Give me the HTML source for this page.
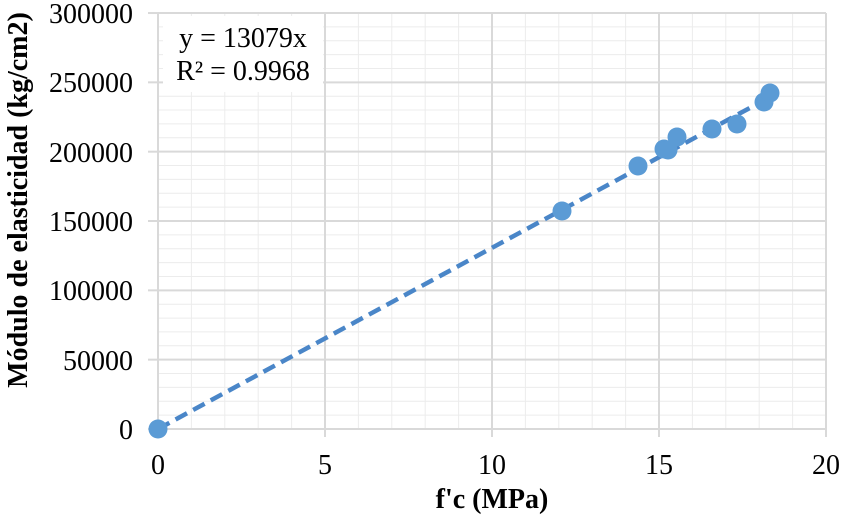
<!DOCTYPE html>
<html><head><meta charset="utf-8"><style>
html,body{margin:0;padding:0;background:#fff;}
svg{display:block;font-family:"Liberation Serif",serif;}
</style></head><body>
<svg width="843" height="517" xmlns="http://www.w3.org/2000/svg">
<g id="minor" stroke="#ececec" stroke-width="1"></g>
<g id="major" stroke="#d9d9d9" stroke-width="2"></g>
<script>
var mi=document.getElementById('minor'),ma=document.getElementById('major'),ns='http://www.w3.org/2000/svg';
function L(g,x1,y1,x2,y2){var l=document.createElementNS(ns,'line');l.setAttribute('x1',x1);l.setAttribute('y1',y1);l.setAttribute('x2',x2);l.setAttribute('y2',y2);g.appendChild(l);}
for(var i=1;i<=20;i++){var x=158+i*33.4;L(i%5?mi:ma,x,13,x,429);}
for(var j=1;j<=30;j++){var y=429-j*13.867;L(j%5?mi:ma,158,y,826,y);}
for(var i=0;i<=4;i++){L(ma,158+i*167,429,158+i*167,437);}
for(var j=0;j<=6;j++){L(ma,148,429-j*69.33,158,429-j*69.33);}
L(ma,158,13,158,429);L(ma,158,429,826,429);
</script>
<rect x="163" y="16" width="160" height="76" fill="#fff"/>
<text x="243" y="47" font-size="28" text-anchor="middle">y = 13079x</text>
<text x="243" y="80" font-size="28" text-anchor="middle">R² = 0.9968</text>
<line x1="158" y1="429" x2="770" y2="97" stroke="#4a86c8" stroke-width="4.5" stroke-dasharray="13 7"/>
<g fill="#5b9bd5">
<circle cx="158" cy="429" r="9.5"/><circle cx="562" cy="211" r="9.5"/><circle cx="638" cy="166" r="9.5"/>
<circle cx="664" cy="149" r="9.5"/><circle cx="668" cy="150" r="9.5"/><circle cx="677" cy="137" r="9.5"/>
<circle cx="712" cy="129" r="9.5"/><circle cx="737" cy="124" r="9.5"/><circle cx="764" cy="102" r="9.5"/>
<circle cx="770" cy="93" r="9.5"/>
</g>
<g font-size="28" text-anchor="end">
<text x="133" y="439">0</text><text x="133" y="370">50000</text><text x="133" y="300">100000</text>
<text x="133" y="231">150000</text><text x="133" y="162">200000</text><text x="133" y="92">250000</text><text x="133" y="23">300000</text>
</g>
<g font-size="28" text-anchor="middle">
<text x="158" y="474">0</text><text x="325" y="474">5</text><text x="492" y="474">10</text><text x="659" y="474">15</text><text x="826" y="474">20</text>
</g>
<text x="492" y="508" font-size="28" font-weight="bold" text-anchor="middle">f'c (MPa)</text>
<text transform="translate(27,200) rotate(-90)" font-size="28" font-weight="bold" text-anchor="middle">Módulo de elasticidad (kg/cm2)</text>
</svg>
</body></html>
